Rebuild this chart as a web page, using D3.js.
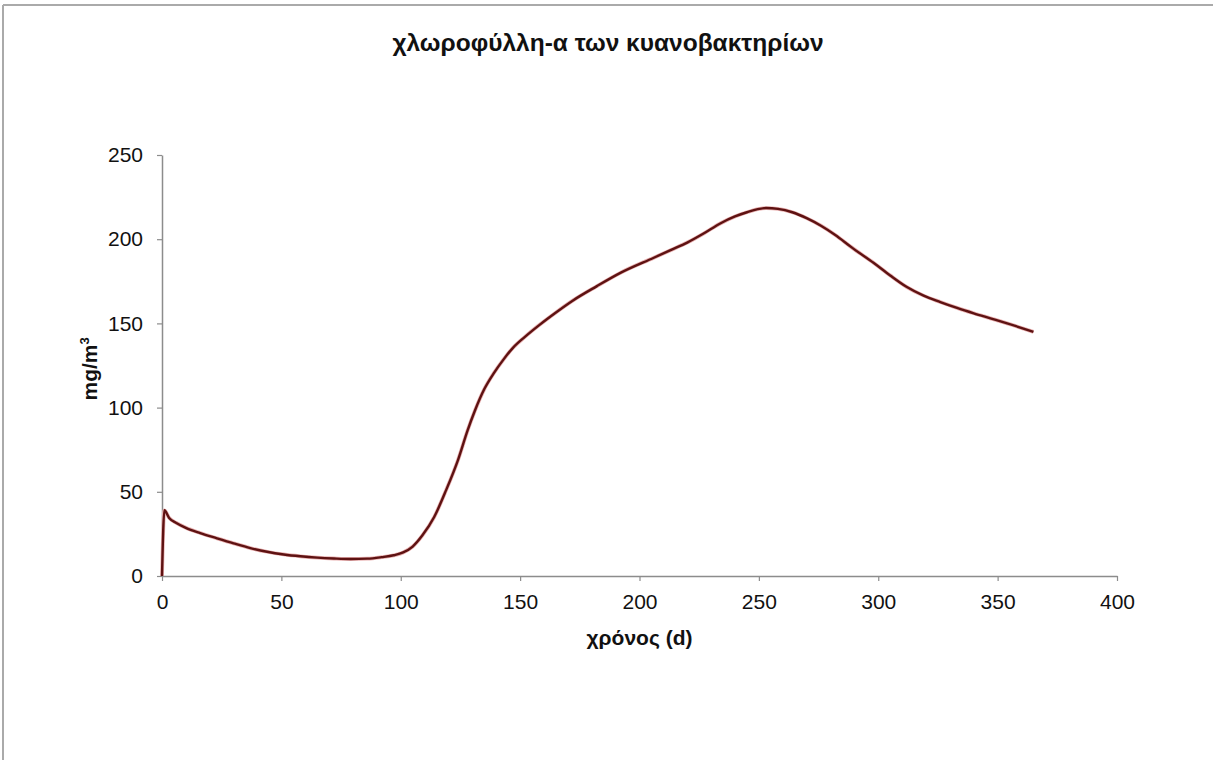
<!DOCTYPE html>
<html>
<head>
<meta charset="utf-8">
<script src="https://cdn.jsdelivr.net/npm/d3@7"></script>
<style>
  body { margin: 0; background: #fff; }
  svg { display: block; font-family: "Liberation Sans", Arial, sans-serif; }
</style>
</head>
<body>
<svg id="chart" width="1213" height="760"></svg>
<script>
// values
const days = [0, 1, 3, 6, 10, 16, 23, 30, 37, 44, 51, 58, 65, 72, 79, 86, 92, 97, 101, 105, 109, 114, 119, 124,
	128, 131, 135, 139, 143, 147, 152, 158, 165, 172, 182, 192, 206, 213, 220, 227, 234, 240, 245, 253, 258, 264,
	270, 276, 282, 289, 298, 305, 312, 319, 326, 333, 340, 347, 354, 365];
const chl = [0, 39, 34.5, 31.5, 28.6, 25.5, 22.4, 19.4, 16.6, 14.4, 12.8, 11.7, 10.9, 10.4, 10.1, 10.3, 11.2, 12.3,
	14, 17.5, 24, 35, 51, 69, 86.5, 98, 111, 120.5, 128.5, 135.5, 142, 149, 156.5, 163.5, 172, 180, 189, 193.5, 198,
	203.5, 209.5, 213.5, 216, 218.5, 218, 216, 212.5, 208, 202.5, 195, 186, 178.5, 171.6, 166.5, 162.7, 159.2, 156,
	153, 150, 145];
const xTicks = [0, 50, 100, 150, 200, 250, 300, 350, 400];
const yTicks = [0, 50, 100, 150, 200, 250];

const svg = d3.select("#chart"),
	width = +svg.attr("width"),
	height = +svg.attr("height");

// frame of the original (top and left edges only)
svg.append("line").attr("x1", 3).attr("x2", width).attr("y1", 5).attr("y2", 5)
	.attr("stroke", "#aaa").attr("stroke-width", 2);
svg.append("line").attr("x1", 3).attr("x2", 3).attr("y1", 5).attr("y2", height)
	.attr("stroke", "#aaa").attr("stroke-width", 2);

const x = d3.scaleLinear().domain([0, 400]).range([162, 1117]);
const y = d3.scaleLinear().domain([0, 250]).range([576, 155]);

const axisColor = "#8c8c8c";

const gx = svg.append("g")
	.attr("transform", `translate(0,${y(0)})`)
	.call(d3.axisBottom(x).tickValues(xTicks).tickSize(5).tickSizeOuter(0).tickPadding(13));
const gy = svg.append("g")
	.attr("transform", `translate(${x(0)},0)`)
	.call(d3.axisLeft(y).tickValues(yTicks).tickSize(5).tickSizeOuter(0).tickPadding(14));

[gx, gy].forEach(g => {
	g.select(".domain").attr("stroke", axisColor).attr("stroke-width", 1.5);
	g.selectAll(".tick line").attr("stroke", axisColor).attr("stroke-width", 1.2);
	g.selectAll(".tick text")
		.attr("fill", "#111")
		.style("font-size", "21px")
		.style("font-family", "'Liberation Sans', Arial, sans-serif");
});

const points = days.map((d, i) => [d, chl[i]]);
const line = d3.line()
	.x(d => x(d[0]))
	.y(d => y(d[1]))
	.curve(d3.curveMonotoneX);

svg.append("path")
	.datum(points)
	.attr("fill", "none")
	.attr("stroke", "#e8b0b0")
	.attr("stroke-width", 3.8)
	.attr("d", line);
svg.append("path")
	.datum(points)
	.attr("fill", "none")
	.attr("stroke", "#5e1212")
	.attr("stroke-width", 2.4)
	.attr("stroke-linejoin", "round")
	.attr("d", line);

// title
svg.append("text")
	.attr("x", 608).attr("y", 51)
	.attr("text-anchor", "middle")
	.style("font-size", "24.5px").style("font-weight", "bold")
	.attr("fill", "#111")
	.text("χλωροφύλλη-α των κυανοβακτηρίων");

// x axis title
svg.append("text")
	.attr("x", x(200)).attr("y", 645)
	.attr("text-anchor", "middle")
	.style("font-size", "21px").style("font-weight", "bold")
	.attr("fill", "#111")
	.text("χρόνος (d)");

// y axis title
const yl = svg.append("text")
	.attr("transform", `translate(97,${y(123)}) rotate(-90)`)
	.attr("text-anchor", "middle")
	.style("font-size", "21px").style("font-weight", "bold")
	.attr("fill", "#111");
yl.append("tspan").text("mg/m");
yl.append("tspan").attr("dy", -8).style("font-size", "13px").text("3");
</script>
</body>
</html>
